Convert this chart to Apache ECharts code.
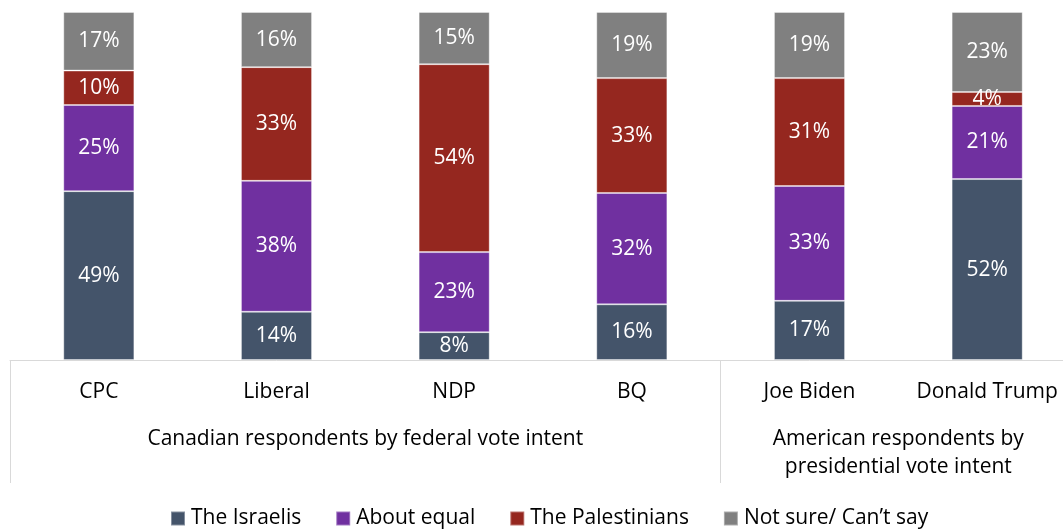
<!DOCTYPE html>
<html><head><meta charset="utf-8">
<script src="https://cdn.jsdelivr.net/npm/echarts@6/dist/echarts.min.js"></script>
<style>html,body{margin:0;padding:0;background:#fff;overflow:hidden}#c{width:1076px;height:529px}</style>
</head><body><div id="c"></div>
<script>
const categories = ['CPC', 'Liberal', 'NDP', 'BQ', 'Joe Biden', 'Donald Trump'];
const groups = [
  { label: 'Canadian respondents by federal vote intent', from: 0, to: 4 },
  { label: 'American respondents by\npresidential vote intent', from: 4, to: 6 }
];
const seriesNames = ['The Israelis', 'About equal', 'The Palestinians', 'Not sure/ Can\u2019t say'];
const israelis     = [49, 14, 8, 16, 17, 52];
const aboutEqual   = [25, 38, 23, 32, 33, 21];
const palestinians = [10, 33, 54, 33, 31, 4];
const notSure      = [17, 16, 15, 19, 19, 23];
const colors = ['#44546A', '#7030A0', '#95271F', '#808080'];

const raw = [israelis, aboutEqual, palestinians, notSure];
const totals = categories.map((_, i) => raw.reduce((s, a) => s + a[i], 0));
const FONT = 'Open Sans';

const chart = echarts.init(document.getElementById('c'));
const option = {
  animation: false,
  textStyle: { fontFamily: FONT },
  grid: { left: 10, top: 12, right: 0, height: 348, containLabel: false },
  legend: {
    top: 508, left: 170, padding: 0,
    itemWidth: 14, itemHeight: 14, itemGap: 34,
    icon: 'rect',
    textStyle: { fontSize: 21, color: '#000', fontFamily: FONT, padding: [0, 0, 0, 1] },
    data: seriesNames
  },
  xAxis: {
    type: 'category', data: categories,
    axisLine: { show: true, lineStyle: { color: '#D9D9D9', width: 1 } },
    axisTick: { show: true, length: 123, interval: (i) => i === 0 || i === 4, lineStyle: { color: '#D9D9D9' } },
    axisLabel: { fontSize: 21, color: '#000', margin: 22, fontFamily: FONT, interval: 0 }
  },
  yAxis: { type: 'value', min: 0, max: 100, show: false, splitLine: { show: false } },
  series: raw.map((arr, k) => ({
    name: seriesNames[k], type: 'bar', stack: 'all', barWidth: '40%',
    itemStyle: { color: colors[k], borderColor: 'rgba(255,255,255,0.35)', borderWidth: 1 },
    label: {
      show: true, position: 'inside', color: '#fff', fontSize: 21, fontFamily: FONT,
      formatter: (p) => arr[p.dataIndex] + '%'
    },
    data: arr.map((v, i) => v / totals[i] * 100)
  }))
};
chart.setOption(option);

const g = groups.map(gr => {
  const x1 = chart.convertToPixel({ xAxisIndex: 0 }, gr.from) ;
  const x2 = chart.convertToPixel({ xAxisIndex: 0 }, gr.to - 1);
  const cx = (x1 + x2) / 2;
  return {
    type: 'text', x: cx, y: 425,
    style: { text: gr.label, font: '21px ' + FONT, fill: '#000', align: 'center', verticalAlign: 'top', lineHeight: 28 }
  };
});
chart.setOption({ graphic: g });
</script></body></html>
